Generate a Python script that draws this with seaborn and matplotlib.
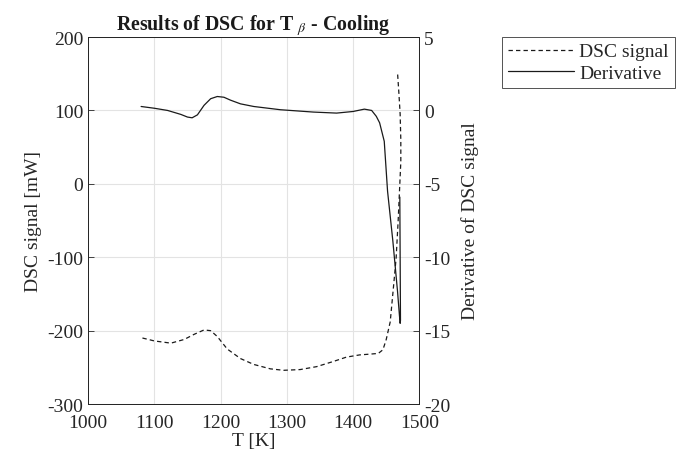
import matplotlib
matplotlib.use("Agg")
import matplotlib.pyplot as plt
import seaborn as sns
import pandas as pd

# DSC signal (left axis)
dsc_temp = [1082, 1100, 1125, 1145, 1160, 1175, 1185, 1195, 1210, 1230, 1250, 1275,
            1295, 1320, 1345, 1370, 1390, 1410, 1425, 1438, 1445, 1450, 1456, 1462,
            1465, 1468, 1470, 1472, 1472, 1471, 1469, 1467]
dsc_signal = [-210, -214, -217, -212, -205, -199, -200, -208, -225, -238, -246, -252,
              -254, -253, -249, -242, -236, -233, -232, -231, -226, -212, -188, -130,
              -100, -50, -10, 30, 60, 95, 125, 152]

# Derivative of DSC signal (right axis)
der_temp = [1080, 1100, 1120, 1140, 1150, 1157, 1165, 1175, 1185, 1195, 1205, 1215,
            1230, 1250, 1290, 1340, 1375, 1400, 1417, 1428, 1435, 1440, 1447, 1452,
            1460, 1467, 1470, 1471, 1471.5, 1471, 1470.5]
derivative = [0.27, 0.15, 0.0, -0.27, -0.45, -0.5, -0.3, 0.35, 0.8, 0.95, 0.9, 0.7,
              0.45, 0.27, 0.05, -0.11, -0.18, -0.07, 0.09, 0.0, -0.4, -0.84, -2.1, -5.5,
              -8.9, -12.3, -14.0, -14.5, -14.3, -10.0, -5.9]

left_ticks = [-300, -200, -100, 0, 100, 200]
right_ticks = [-20, -15, -10, -5, 0, 5]
x_ticks = [1000, 1100, 1200, 1300, 1400, 1500]

sns.set_style("white")
plt.rcParams["font.family"] = ["Liberation Serif", "DejaVu Serif"]
plt.rcParams["mathtext.fontset"] = "stix"
plt.rcParams["axes.unicode_minus"] = False

df_dsc = pd.DataFrame({"T": dsc_temp, "v": dsc_signal})
df_der = pd.DataFrame({"T": der_temp, "v": derivative})

fig = plt.figure(figsize=(6.83, 4.64), dpi=100)
ax = fig.add_axes([0.129, 0.127, 0.485, 0.791])
ax2 = ax.twinx()

sns.lineplot(data=df_dsc, x="T", y="v", ax=ax, sort=False, estimator=None,
             color="#1a1a1a", linewidth=0.9, linestyle=(0, (3.5, 2.5)),
             label="DSC signal", legend=False)
sns.lineplot(data=df_der, x="T", y="v", ax=ax2, sort=False, estimator=None,
             color="#1a1a1a", linewidth=0.9, label="Derivative", legend=False)

ax.set_xlim(1000, 1500)
ax.set_ylim(-300, 200)
ax2.set_ylim(-20, 5)
ax.set_xticks(x_ticks)
ax.set_yticks(left_ticks)
ax2.set_yticks(right_ticks)
ax.grid(True, color="#e3e3e3", linewidth=0.8)
ax.set_axisbelow(True)

for a in (ax, ax2):
    a.tick_params(direction="in", length=4, width=0.6, colors="#262626",
                  labelsize=14, labelcolor="#262626")
    for s in a.spines.values():
        s.set_color("#262626")
        s.set_linewidth(0.7)
ax.tick_params(axis="x", pad=7)

ax.set_xlabel("T [K]", fontsize=14, color="#262626", labelpad=1)
ax.set_ylabel("DSC signal [mW]", fontsize=14, color="#262626", labelpad=4)
ax2.set_ylabel("Derivative of DSC signal", fontsize=14, color="#262626", labelpad=8)
ax.set_title(r"Results of DSC for T $_\beta$ - Cooling", fontsize=14.3,
             fontweight="bold", color="#1a1a1a", pad=4)

h1, l1 = ax.get_legend_handles_labels()
h2, l2 = ax2.get_legend_handles_labels()
leg = fig.legend(h1 + h2, l1 + l2, loc="upper right", bbox_to_anchor=(0.988, 0.918),
                 borderaxespad=0, fontsize=14, frameon=True, fancybox=False,
                 borderpad=0.3, labelspacing=0.2, handlelength=3.4, handletextpad=0.3)
leg.get_frame().set_edgecolor("#262626")
leg.get_frame().set_linewidth(0.7)

fig.savefig("out.png", dpi=100)
plt.close(fig)
